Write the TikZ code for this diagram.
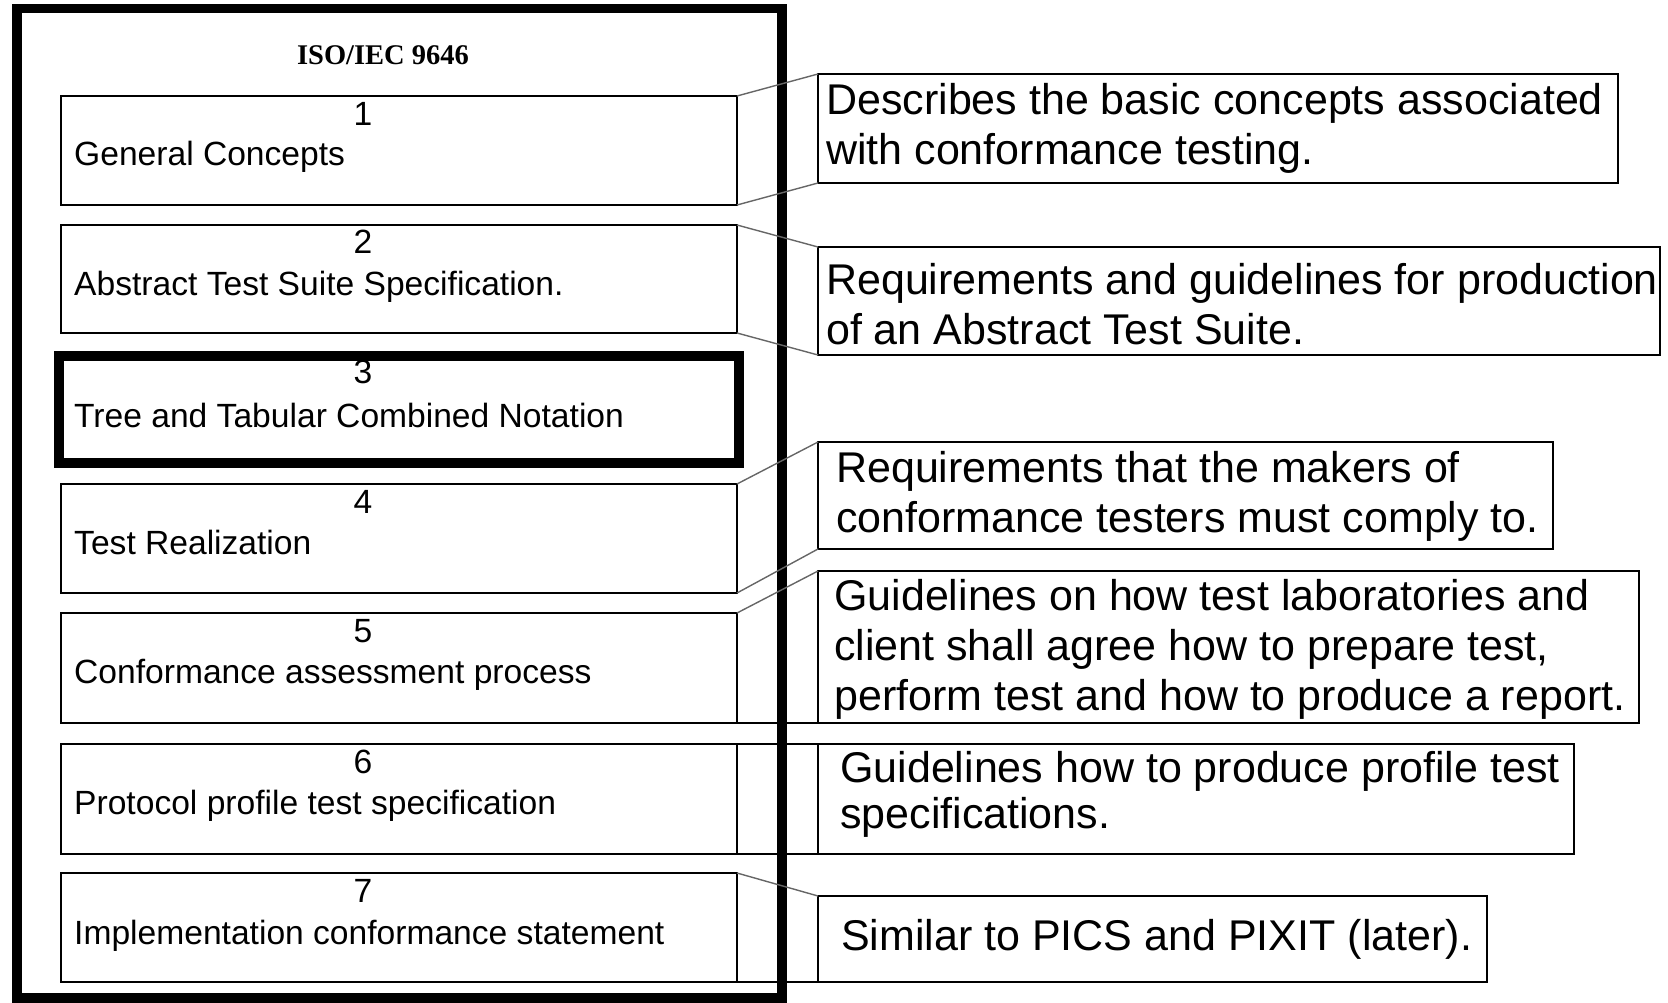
\documentclass[tikz,border=0pt]{standalone}
\usepackage{fontspec}
\setmainfont{Liberation Sans}
\newfontfamily\titlefont{Liberation Serif}
\begin{document}
\begin{tikzpicture}[x=1pt,y=-1pt,
  lbox/.style={draw=black, line width=1.6pt, inner sep=0pt, outer sep=0pt, anchor=north west, minimum width=676pt},
  rbox/.style={draw=black, line width=1.6pt, inner sep=0pt, outer sep=0pt, anchor=north west},
  numtxt/.style={inner sep=0pt, anchor=base, font=\fontsize{33.6}{38}\selectfont},
  labtxt/.style={inner sep=0pt, anchor=base west, font=\fontsize{33.6}{38}\selectfont},
  desc/.style={inner sep=0pt, anchor=north west, align=left, font=\fontsize{43}{50}\selectfont},
  conn/.style={draw=black!60, line width=1.4pt},
  tie/.style={draw=black, line width=1.6pt}
]
\useasboundingbox (0,0) rectangle (1668,1003);

% outer frame
\node[draw=black, line width=9.5pt, inner sep=0pt, outer sep=0pt, anchor=north west,
      minimum width=765pt, minimum height=989.5pt] (outer) at (17,8.5) {};
\node[inner sep=0pt, anchor=base, font=\titlefont\bfseries\fontsize{28.5}{32}\selectfont] (title) at (383,65) {ISO/IEC 9646};

% left boxes
\node[lbox, minimum height=109pt] (b1) at (61,96) {};
\node[lbox, minimum height=108pt] (b2) at (61,225) {};
\node[draw=black, line width=10pt, inner sep=0pt, outer sep=0pt, anchor=north west,
      minimum width=680pt, minimum height=106.5pt] (b3) at (59,356) {};
\node[lbox, minimum height=109pt] (b4) at (61,484) {};
\node[lbox, minimum height=110pt] (b5) at (61,613) {};
\node[lbox, minimum height=110pt] (b6) at (61,744) {};
\node[lbox, minimum height=109pt] (b7) at (61,873) {};

% numbers and labels
\node[numtxt] (n1) at (363,125.5) {1};
\node[labtxt] (l1) at (74,166) {General Concepts};
\node[numtxt] (n2) at (363,254) {2};
\node[labtxt] (l2) at (74,295) {Abstract Test Suite Specification.};
\node[numtxt] (n3) at (363,383) {3};
\node[labtxt] (l3) at (74,427) {Tree and Tabular Combined Notation};
\node[numtxt] (n4) at (363,513) {4};
\node[labtxt] (l4) at (74,554) {Test Realization};
\node[numtxt] (n5) at (363,642.5) {5};
\node[labtxt] (l5) at (74,683) {Conformance assessment process};
\node[numtxt] (n6) at (363,773.5) {6};
\node[labtxt] (l6) at (74,814) {Protocol profile test specification};
\node[numtxt] (n7) at (363,902) {7};
\node[labtxt] (l7) at (74,944) {Implementation conformance statement};

% right boxes
\node[rbox, minimum width=800pt, minimum height=109pt] (r1) at (818,74) {};
\node[rbox, minimum width=842pt, minimum height=108pt] (r2) at (818,247) {};
\node[rbox, minimum width=735pt, minimum height=107pt] (r4) at (818,442) {};
\node[rbox, minimum width=821pt, minimum height=152pt] (r5) at (818,571) {};
\node[rbox, minimum width=756pt, minimum height=110pt] (r6) at (818,744) {};
\node[rbox, minimum width=669pt, minimum height=86pt] (r7) at (818,896) {};

% descriptions
\node[desc] (t1) at (826,79) {\strut Describes the basic concepts associated\\with conformance testing.};
\node[desc] (t2) at (826,259) {\strut Requirements and guidelines for production\\of an Abstract Test Suite.};
\node[desc] (t4) at (836,447) {\strut Requirements that the makers of\\conformance testers must comply to.};
\node[desc] (t5) at (834,575) {\strut Guidelines on how test laboratories and\\client shall agree how to prepare test,\\perform test and how to produce a report.};
\node[desc, font=\fontsize{43}{46}\selectfont] (t6) at (840,749.8) {\strut Guidelines how to produce profile test\\specifications.};
\node[desc] (t7) at (841,915) {\strut Similar to PICS and PIXIT (later).};

% connectors
\draw[conn] (b1.north east) -- (r1.north west);
\draw[conn] (b1.south east) -- (r1.south west);
\draw[conn] (b2.north east) -- (r2.north west);
\draw[conn] (b2.south east) -- (r2.south west);
\draw[conn] (b4.north east) -- (r4.north west);
\draw[conn] (b4.south east) -- (r4.south west);
\draw[conn] (b5.north east) -- (r5.north west);
\draw[tie] (b5.south east) -- (r5.south west);
\draw[tie] (b6.north east) -- (r6.north west);
\draw[tie] (b6.south east) -- (r6.south west);
\draw[conn] (b7.north east) -- (r7.north west);
\draw[tie] (b7.south east) -- (r7.south west);
\end{tikzpicture}
\end{document}
